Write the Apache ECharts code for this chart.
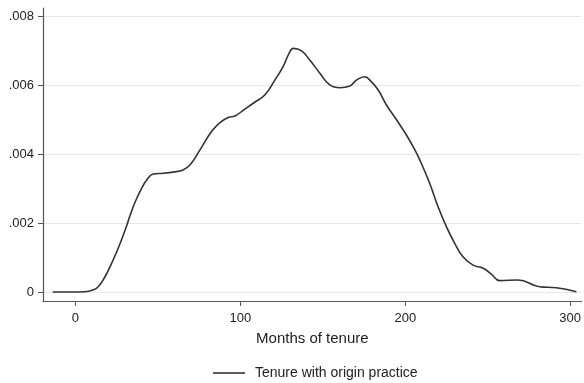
<!DOCTYPE html>
<html>
<head>
<meta charset="utf-8">
<script src="https://cdn.jsdelivr.net/npm/echarts@6/dist/echarts.min.js"></script>
<style>html,body{margin:0;padding:0;background:#fff}#c{width:584px;height:383px}</style>
</head>
<body>
<div id="c"></div>
<script>
const months = [-13.8, -3.3, 5.8, 10.0, 13.8, 17.9, 21.9, 25.9, 30.0, 33.0, 36.1, 40.1, 43.2, 47.2, 53.2, 61.3, 64.4, 69.4, 75.5, 82.5, 87.6, 92.6, 96.7, 102.7, 107.8, 114.8, 120.9, 125.9, 129.6, 132.0, 137.1, 142.1, 148.2, 154.2, 160.3, 166.4, 170.4, 175.5, 178.5, 183.5, 188.6, 194.7, 200.7, 205.8, 208.8, 214.8, 219.9, 225.0, 230.0, 235.0, 241.1, 247.2, 252.2, 257.3, 268.4, 281.5, 291.6, 303.8];
const densityE3 = [0, 0, 0.01, 0.05, 0.154, 0.443, 0.832, 1.267, 1.78, 2.20, 2.60, 3.006, 3.246, 3.42, 3.44, 3.49, 3.52, 3.68, 4.12, 4.65, 4.91, 5.06, 5.10, 5.30, 5.47, 5.71, 6.14, 6.53, 6.92, 7.06, 6.99, 6.72, 6.34, 6.00, 5.92, 5.97, 6.14, 6.24, 6.14, 5.86, 5.42, 4.99, 4.55, 4.12, 3.83, 3.15, 2.47, 1.89, 1.41, 1.02, 0.78, 0.69, 0.52, 0.33, 0.35, 0.154, 0.125, 0.01];
const xTicks = [0, 100, 200, 300];
const yTicks = [0, 0.002, 0.004, 0.006, 0.008];
const seriesName = 'Tenure with origin practice';
const xTitle = 'Months of tenure';

const points = months.map((m, i) => [m, densityE3[i] / 1000]);
const font = '"Liberation Sans", Arial, sans-serif';

const chart = echarts.init(document.getElementById('c'), null, {renderer: 'canvas'});
chart.setOption({
  animation: false,
  grid: {left: 43, right: 2, top: 8, bottom: 82, containLabel: false},
  xAxis: {
    type: 'value', min: -19.7, max: 307,
    name: xTitle, nameLocation: 'middle', nameGap: 30,
    nameTextStyle: {fontFamily: font, fontSize: 15, color: '#222'},
    axisLine: {show: true, onZero: false, lineStyle: {color: '#555', width: 1.2}},
    axisTick: {show: true, customValues: xTicks, length: 5, lineStyle: {color: '#555'}},
    axisLabel: {customValues: xTicks, margin: 11, fontFamily: font, fontSize: 13, color: '#222'},
    splitLine: {show: false}
  },
  yAxis: {
    type: 'value', min: -0.00026, max: 0.00823,
    axisLine: {show: true, onZero: false, lineStyle: {color: '#555', width: 1.2}},
    axisTick: {show: true, customValues: yTicks, length: 5, lineStyle: {color: '#555'}},
    axisLabel: {customValues: yTicks, margin: 9, fontFamily: font, fontSize: 13, color: '#222',
      formatter: v => v === 0 ? '0' : String(+v.toFixed(3)).replace(/^0\./, '.')},
    splitLine: {show: false}
  },
  legend: {
    left: 208, top: 361, itemWidth: 32, itemHeight: 1.6, icon: 'rect',
    itemStyle: {color: '#333', borderWidth: 0},
    textStyle: {fontFamily: font, fontSize: 14, color: '#222', padding: [0, 0, 0, 5]},
    data: [seriesName]
  },
  series: [{
    name: seriesName, type: 'line', data: points, smooth: 0.45,
    symbol: 'none', lineStyle: {color: '#333', width: 1.6}, itemStyle: {color: '#333'},
    markLine: {
      silent: true, symbol: 'none', label: {show: false}, z: 0, precision: 6,
      lineStyle: {color: '#e8e8e8', width: 1.2, type: 'solid'},
      emphasis: {disabled: true},
      data: yTicks.map(v => ({yAxis: v}))
    }
  }]
});
</script>
</body>
</html>
